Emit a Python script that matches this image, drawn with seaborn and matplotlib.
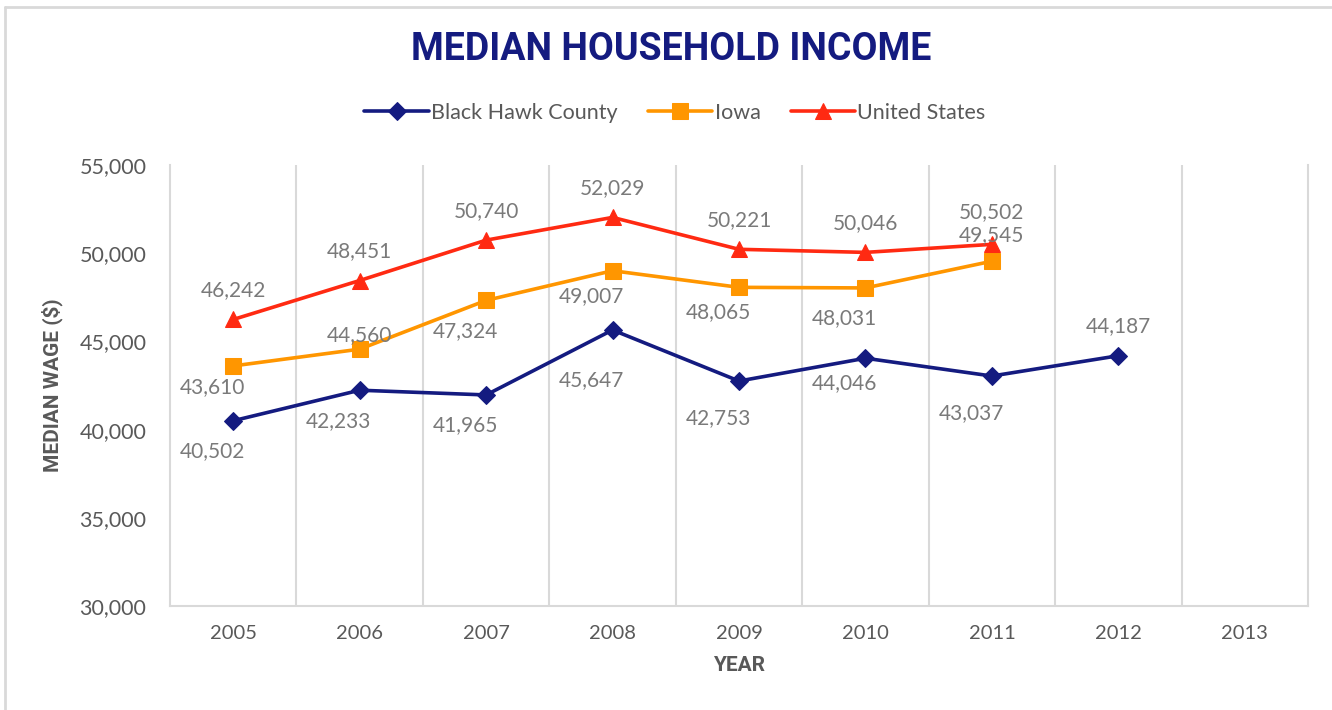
import pandas as pd
import matplotlib.pyplot as plt
import seaborn as sns

# data
years = [2005, 2006, 2007, 2008, 2009, 2010, 2011, 2012, 2013]
bhc_years = [2005, 2006, 2007, 2008, 2009, 2010, 2011, 2012]
bhc = [40502, 42233, 41965, 45647, 42753, 44046, 43037, 44187]
iowa_years = [2005, 2006, 2007, 2008, 2009, 2010, 2011]
iowa = [43610, 44560, 47324, 49007, 48065, 48031, 49545]
us_years = [2005, 2006, 2007, 2008, 2009, 2010, 2011]
us = [46242, 48451, 50740, 52029, 50221, 50046, 50502]

names = ['Black Hawk County', 'Iowa', 'United States']
colors = {'Black Hawk County': '#141B80', 'Iowa': '#FF9600', 'United States': '#FF2A12'}
markers = {'Black Hawk County': 'D', 'Iowa': 's', 'United States': '^'}
# where each data label sits relative to its point
label_pos = {
    'Black Hawk County': ['below'] * 7 + ['above'],
    'Iowa': ['below', 'above', 'below', 'below', 'below', 'below', 'above'],
    'United States': ['above'] * 7,
}
# a few labels were hand-moved in the original (points, x/y)
nudges = {
    ('Black Hawk County', 2008): (0, -14),
    ('Black Hawk County', 2009): (0, -5),
    ('Black Hawk County', 2010): (0, 4),
    ('Black Hawk County', 2011): (0, -5),
    ('Iowa', 2005): (0, 7),
    ('Iowa', 2006): (0, -11),
    ('Iowa', 2008): (0, 4),
    ('Iowa', 2009): (0, 4),
    ('United States', 2011): (0, 2),
    ('Iowa', 2011): (0, -2),
}

df = pd.concat([
    pd.DataFrame({'year': bhc_years, 'value': bhc, 'series': names[0]}),
    pd.DataFrame({'year': iowa_years, 'value': iowa, 'series': names[1]}),
    pd.DataFrame({'year': us_years, 'value': us, 'series': names[2]}),
])

sns.set_style('white')
plt.rcParams['font.family'] = ['Lato', 'DejaVu Sans']

fig = plt.figure(figsize=(13.32, 7.1), dpi=100)
ax = fig.add_axes([170 / 1332, 1 - 606 / 710, (1308 - 170) / 1332, (606 - 165) / 710])

sns.lineplot(data=df, x='year', y='value', hue='series', style='series',
             palette=colors, markers=markers, dashes=False, linewidth=2.6,
             markersize=11, ax=ax)
for line in ax.get_lines():
    line.set_markeredgecolor(line.get_color())
    if line.get_marker() == 'D':
        line.set_markersize(9)
    if line.get_marker() == '^':
        line.set_markersize(12)

# data labels
grey = '#7A7A7A'
for name, xs, ys in [(names[0], bhc_years, bhc), (names[1], iowa_years, iowa), (names[2], us_years, us)]:
    for x, y, pos in zip(xs, ys, label_pos[name]):
        if pos == 'above':
            off = (0, 21)
        else:
            off = (-15, -22)
        dx, dy = nudges.get((name, x), (0, 0))
        ax.annotate(f'{y:,}', (x, y), xytext=(off[0] + dx, off[1] + dy), textcoords='offset points',
                    ha='center', va='center', fontsize=15, color=grey)

ax.set_xlim(2004.5, 2013.5)
ax.set_ylim(30000, 55000)
ax.set_xticks(years)
ax.set_xticklabels([str(y) for y in years])
ax.set_yticks(range(30000, 55001, 5000))
ax.set_yticklabels([f'{v:,}' for v in range(30000, 55001, 5000)])
ax.set_xticks([y + 0.5 for y in years[:-1]], minor=True)
ax.grid(True, which='minor', axis='x', color='#D9D9D9', linewidth=1.5)
ax.grid(False, which='major')
ax.tick_params(axis='both', which='both', length=0)
ax.tick_params(axis='x', which='major', pad=14, labelsize=14.5, labelcolor='#595959')
ax.tick_params(axis='y', pad=17, labelsize=15.5, labelcolor='#595959')

for s in ['left', 'right', 'bottom']:
    ax.spines[s].set_visible(True)
    ax.spines[s].set_color('#D9D9D9')
    ax.spines[s].set_linewidth(1.5)
ax.spines['top'].set_visible(False)

ax.set_xlabel('YEAR', fontsize=15, fontweight='bold', color='#595959', labelpad=10,
              family=['Roboto', 'DejaVu Sans'])
ax.set_ylabel('MEDIAN WAGE ($)', fontsize=15, fontweight='bold', color='#595959', labelpad=12,
              family=['Roboto', 'DejaVu Sans'])

handles, labels = ax.get_legend_handles_labels()
ax.legend(handles, labels, loc='center', bbox_to_anchor=(675 / 1332, 1 - 113 / 710),
          bbox_transform=fig.transFigure, ncol=3, frameon=False, fontsize=15.5,
          labelcolor='#595959', handlelength=3.0, handletextpad=0.1, columnspacing=1.4)

fig.text(671 / 1332, 1 - 50 / 710, 'MEDIAN HOUSEHOLD INCOME', ha='center', va='center',
         fontsize=27, fontweight='bold', color='#141B80', family=['Roboto', 'DejaVu Sans'])

# outer border (top and left edges only visible)
fig.add_artist(plt.Line2D([5 / 1332, 1], [1 - 7 / 710, 1 - 7 / 710], transform=fig.transFigure,
                          color='#D9D9D9', linewidth=2))
fig.add_artist(plt.Line2D([5 / 1332, 5 / 1332], [0, 1 - 7 / 710], transform=fig.transFigure,
                          color='#D9D9D9', linewidth=2))

fig.savefig('out.png', dpi=100)
